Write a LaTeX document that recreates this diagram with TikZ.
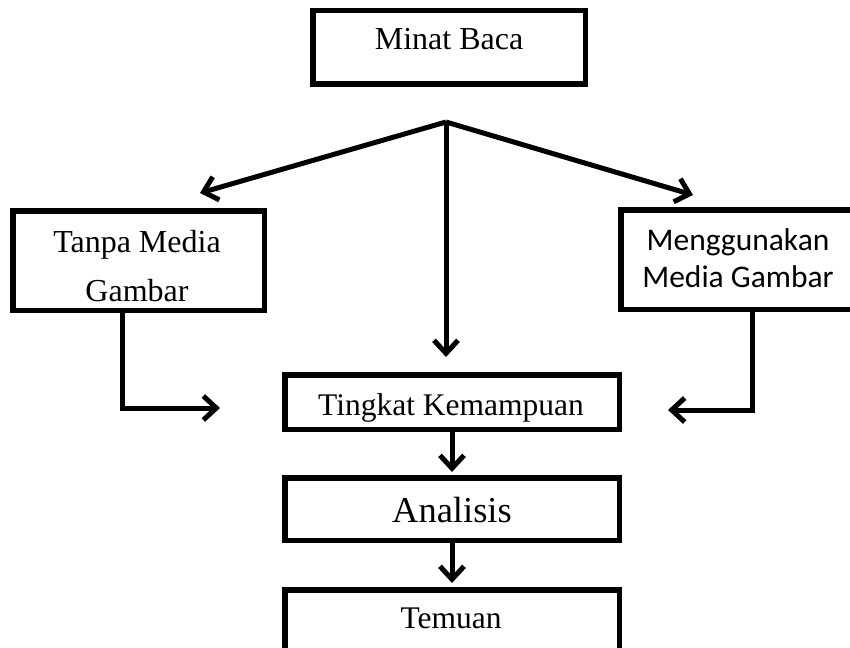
\documentclass[tikz,border=0pt]{standalone}
\usepackage{fontspec}
\setmainfont{Liberation Serif}
\newfontfamily\calib{Carlito}
\usetikzlibrary{arrows.meta}
\begin{document}
\begin{tikzpicture}[x=1pt,y=-1pt,
  box/.style={draw=black,line width=5.5pt,inner sep=0pt,fill=white},
  lbl/.style={anchor=base,inner sep=0pt},
  arr/.style={line width=5pt,-{Straight Barb[length=13pt,width=24pt]}}]
\useasboundingbox (0,0) rectangle (850,647);
\clip (0,0) rectangle (850,647);
% boxes (centre, centre-line size)
\node[box,minimum width=272.5pt,minimum height=73.5pt] (minat) at (449,47.5) {};
\node[box,minimum width=251.5pt,minimum height=99.5pt] (tanpa) at (138.5,260.5) {};
\node[box,minimum width=236.5pt,minimum height=99.5pt] (meng) at (739,259.5) {};
\node[box,minimum width=334.5pt,minimum height=54.5pt] (tingkat) at (452,402) {};
\node[box,minimum width=334.5pt,minimum height=62.5pt] (analisis) at (452,509) {};
\node[box,minimum width=334.5pt,minimum height=72.5pt] (temuan) at (452,626) {};
% texts
\node[lbl,font=\fontsize{32}{38}\selectfont] (tminat) at (449,50) {Minat Baca};
\node[lbl,font=\fontsize{32}{38}\selectfont] (ttanpa1) at (137,252) {Tanpa Media};
\node[lbl,font=\fontsize{32}{38}\selectfont] (ttanpa2) at (137,301) {Gambar};
\node[lbl,font=\calib\fontsize{31.5}{38}\selectfont] (tmeng1) at (738,250) {Menggunakan};
\node[lbl,font=\calib\fontsize{31.5}{38}\selectfont] (tmeng2) at (738,287) {Media Gambar};
\node[lbl,font=\fontsize{31.5}{38}\selectfont] (ttingkat) at (451,415) {Tingkat Kemampuan};
\node[lbl,font=\fontsize{36.5}{42}\selectfont] (tanalisis) at (452,522) {Analisis};
\node[lbl,font=\fontsize{31.5}{38}\selectfont] (ttemuan) at (451,628) {Temuan};
% coordinates
\coordinate (apex) at (446,122);
\coordinate (tipL) at (200,193);
\coordinate (tipR) at (693,195);
\coordinate (tipC) at (446,357);
\coordinate (tlc) at (122,408);
\coordinate (tle) at (220,408);
\coordinate (trc) at (752,410);
\coordinate (tre) at (668,410);
\coordinate (t1) at (452,472);
\coordinate (t2) at (452,583);
% connectors
\draw[arr] (apex) -- (tipL);
\draw[arr] (apex) -- (tipR);
\draw[arr] (apex) -- (tipC);
\draw[arr] (tanpa.south -| tlc) -- (tlc) -- (tle);
\draw[arr] (meng.south -| trc) -- (trc) -- (tre);
\draw[arr] (tingkat.south) -- (t1);
\draw[arr] (analisis.south) -- (t2);
\end{tikzpicture}
\end{document}
